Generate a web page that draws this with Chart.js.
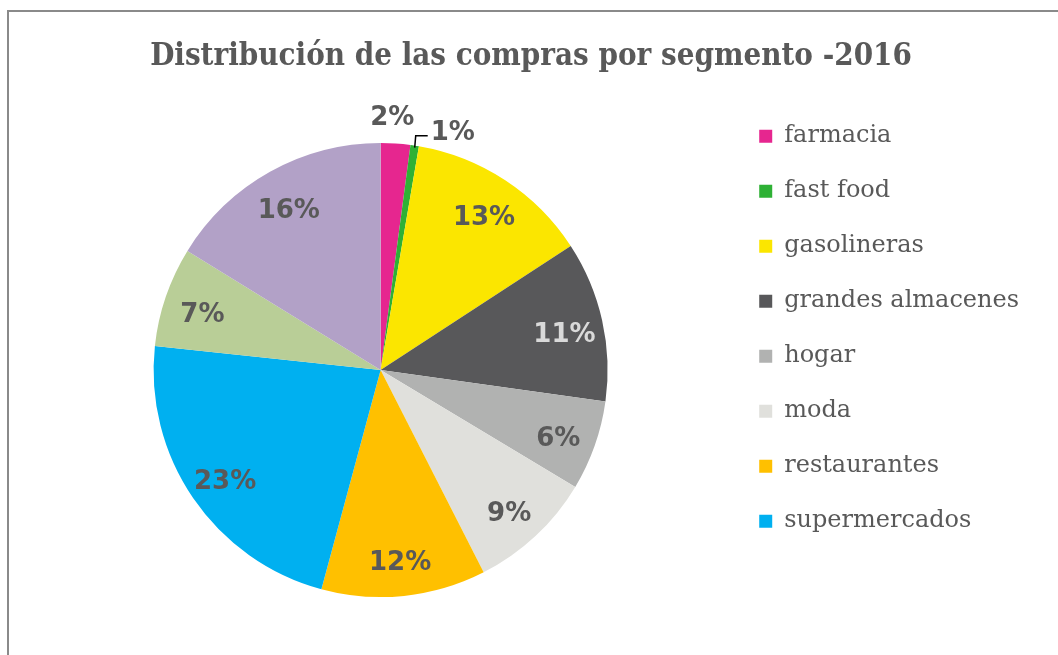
<!DOCTYPE html>
<html>
<head>
<meta charset="utf-8">
<script src="https://cdn.jsdelivr.net/npm/chart.js@4"></script>
<style>
  body { margin: 0; background: #ffffff; }
  #frame {
    position: absolute; left: 7px; top: 10px; width: 2000px; height: 2000px;
    border-left: 2px solid #8a8a8a; border-top: 2px solid #8a8a8a;
  }
  #wrap { position: absolute; left: 0; top: 0; width: 1058px; height: 655px; }
</style>
</head>
<body>
<div id="frame"></div>
<div id="wrap"><canvas id="pieChart"></canvas></div>
<script>
// Distribución de las compras por segmento - 2016
const segments = ['farmacia', 'fast food', 'gasolineras', 'grandes almacenes', 'hogar',
                  'moda', 'restaurantes', 'supermercados', 'tecnología', 'viajes'];
const shares = [2.1, 0.6, 13.1, 11.4, 6.4, 8.9, 11.7, 22.5, 7.1, 16.2];
const segmentColors = ['#E6268F', '#2EB135', '#FBE600', '#58585A', '#B1B2B1',
                       '#E0E0DC', '#FFC000', '#00B0F0', '#B9CE97', '#B2A1C7'];
const labelColors = ['#595959', '#595959', '#595959', '#D9D9D9', '#595959',
                     '#595959', '#595959', '#595959', '#595959', '#595959'];
const legendCount = 8;

// percentage labels, drawn on the arcs (small slices go outside)
const pctLabels = {
    id: 'pctLabels',
    afterDatasetsDraw(chart) {
        const ctx = chart.ctx;
        const arcs = chart.getDatasetMeta(0).data;
        const total = shares.reduce((a, b) => a + b, 0);
        let smallCount = 0;
        ctx.save();
        ctx.font = 'bold 26px "DejaVu Sans"';
        ctx.textBaseline = 'middle';
        arcs.forEach((arc, i) => {
            const p = arc.getProps(['x', 'y', 'startAngle', 'endAngle', 'outerRadius'], true);
            const mid = (p.startAngle + p.endAngle) / 2;
            const pct = Math.round(shares[i] / total * 100);
            const text = pct + '%';
            ctx.fillStyle = labelColors[i];
            if (shares[i] >= 3) {
                const r = p.outerRadius * 0.83;
                ctx.textAlign = 'center';
                ctx.fillText(text, p.x + Math.cos(mid) * r, p.y + Math.sin(mid) * r + 6);
            } else if (smallCount === 0) {
                const r = p.outerRadius + 27;
                ctx.textAlign = 'center';
                ctx.fillText(text, p.x + Math.cos(mid) * r - 5, p.y + Math.sin(mid) * r + 2);
                smallCount++;
            } else {
                const ex = p.x + Math.cos(mid) * p.outerRadius;
                const ey = p.y + Math.sin(mid) * p.outerRadius;
                ctx.strokeStyle = '#000000';
                ctx.lineWidth = 1.5;
                ctx.beginPath();
                ctx.moveTo(ex, ey + 2);
                ctx.lineTo(ex + 1, ey - 10);
                ctx.lineTo(ex + 13, ey - 10);
                ctx.stroke();
                ctx.textAlign = 'left';
                ctx.fillText(text, ex + 16, ey - 12);
                smallCount++;
            }
        });
        ctx.restore();
    }
};

const pieChart = document.getElementById('pieChart').getContext('2d');
new Chart(pieChart, {
    type: 'pie',
    data: {
        labels: segments,
        datasets: [{
            data: shares,
            backgroundColor: segmentColors,
            borderWidth: 0,
            radius: 227
        }]
    },
    options: {
        responsive: true,
        maintainAspectRatio: false,
        animation: false,
        layout: {
            padding: { left: 33, right: 29, top: 0, bottom: 8 }
        },
        plugins: {
            title: {
                display: true,
                text: 'Distribución de las compras por segmento -2016',
                color: '#595959',
                font: { family: '"DejaVu Serif Condensed", "DejaVu Serif"', size: 31, weight: 'bold' },
                padding: { top: 38, bottom: 18 }
            },
            legend: {
                position: 'right',
                align: 'start',
                fullSize: false,
                labels: {
                    color: '#595959',
                    font: { family: '"DejaVu Serif"', size: 24 },
                    boxWidth: 13,
                    boxHeight: 13,
                    padding: 31,
                    filter: (item) => item.index < legendCount
                }
            },
            tooltip: { enabled: false }
        }
    },
    plugins: [pctLabels]
});
</script>
</body>
</html>
